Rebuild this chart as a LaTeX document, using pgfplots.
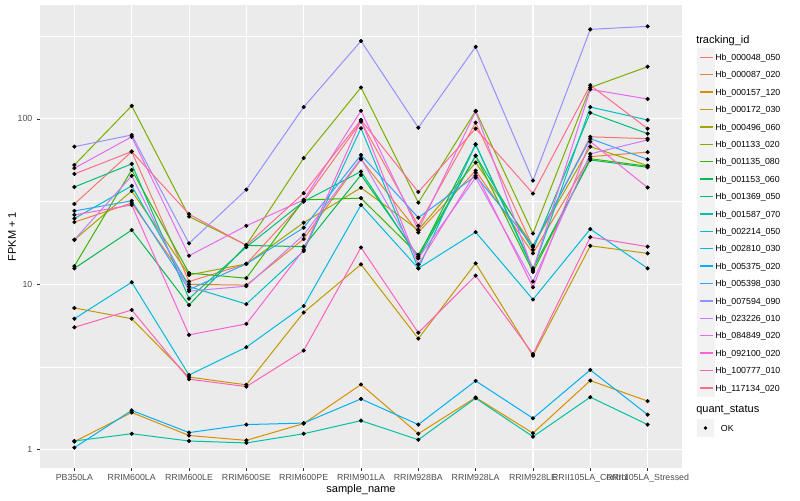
\documentclass[border=0pt]{standalone}
\usepackage{pgfplots}
\pgfplotsset{compat=1.18}
\usepackage{pgfplotstable}
\usepackage{fontspec}
\setmainfont{Liberation Sans}

% ggplot hue palette, 20 levels
\definecolor{c01}{HTML}{F8766D}
\definecolor{c02}{HTML}{EA8331}
\definecolor{c03}{HTML}{D89000}
\definecolor{c04}{HTML}{C09B00}
\definecolor{c05}{HTML}{A3A500}
\definecolor{c06}{HTML}{7CAE00}
\definecolor{c07}{HTML}{39B600}
\definecolor{c08}{HTML}{00BB4E}
\definecolor{c09}{HTML}{00BF7D}
\definecolor{c10}{HTML}{00C1A3}
\definecolor{c11}{HTML}{00BFC4}
\definecolor{c12}{HTML}{00BAE0}
\definecolor{c13}{HTML}{00B0F6}
\definecolor{c14}{HTML}{35A2FF}
\definecolor{c15}{HTML}{9590FF}
\definecolor{c16}{HTML}{C77CFF}
\definecolor{c17}{HTML}{E76BF3}
\definecolor{c18}{HTML}{FA62DB}
\definecolor{c19}{HTML}{FF62BC}
\definecolor{c20}{HTML}{FF6C90}
\definecolor{panelgrey}{HTML}{EBEBEB}
\definecolor{keygrey}{HTML}{F2F2F2}
\definecolor{ticktext}{HTML}{4D4D4D}
\definecolor{tickline}{HTML}{333333}

% FPKM + 1, one row per sample (x = 0..10), one column per tracking_id
\pgfplotstableread{
x  s01  s02  s03  s04  s05  s06  s07  s08  s09  s10  s11  s12  s13  s14  s15  s16  s17  s18  s19  s20
0  30.6 23.8 1.12 7.2  18.6 52.7 12.9 12.5 38.8 1.13 25   6.2  1.03 27.8 68   18.6 50.4 26.3 5.5  46.5
1  63.5 31   1.68 6.2  36.7 120  49.2 21.3 53.5 1.25 39.4 10.3 1.73 32   80   45.3 78   30.2 7.0  63.5
2  10.4 10.0 1.22 2.75 11.4 25.7 11.7 7.5  8.2  1.13 9.7  2.83 1.27 9.3  17.7 9.1  14.9 4.95 2.67 26.6
3  13.3 9.9  1.14 2.47 13.3 17.3 10.9 17.2 16.8 1.10 7.6  4.17 1.42 13.3 37.4 9.75 22.6 5.77 2.41 17.2
4  31.7 18.8 1.44 6.76 23.6 58   32.4 16.9 31.7 1.25 15.9 7.4  1.45 22.0 118  19.9 32.4 16.2 3.98 35.6
5  96.4 57   2.48 13.2 38.4 155  33.2 45.9 48.1 1.5  87.9 30.2 2.03 60.6 296  57.8 112  98.6 16.7 98.6
6  22.6 20.6 1.25 4.7  21.3 31.2 15.1 14.7 14.4 1.15 12.5 12.5 1.42 25.3 88.6 14.4 21.3 13.2 5.1  36.2
7  95   48.7 2.07 13.4 54.5 112  59.8 70.3 60   2.05 70   20.7 2.61 45.3 273  44.2 111  47.4 11.3 87.4
8  16.8 15.4 1.26 3.7  17.1 20.3 11.9 12.5 16.2 1.2  12.2 8.1  1.55 17.1 42.4 10.4 12.2 9.6  3.79 35.4
9  78   59.2 2.62 17.1 68   155  57.5 56.5 109  2.08 118  21.6 3.04 76   348  61.5 151  73   19.3 160
10 76   63   1.97 15.4 52.2 207  51.8 51   81.5 1.42 98.6 12.5 1.63 57   363  74.7 132  38.5 16.9 87.4
}\fpkm

\begin{document}
\begin{tikzpicture}
\begin{axis}[
    at={(0pt,0pt)}, anchor=south west,
    scale only axis,
    width=481.5pt, height=347.25pt,
    ymode=log,
    xmin=-0.6, xmax=10.6,
    ymin=0.776, ymax=488.7,
    xtick={0,...,10},
    xticklabels={PB350LA,RRIM600LA,RRIM600LE,RRIM600SE,RRIM600PE,RRIM901LA,RRIM928BA,RRIM928LA,RRIM928LE,RRII105LA\_Control,RRII105LA\_Stressed},
    ytick={1,10,100},
    yticklabels={1,10,100},
    minor ytick={3.1623,31.623,316.23},
    minor xtick={},
    grid=both,
    major grid style={white, line width=0.8pt},
    minor grid style={white, line width=0.4pt},
    axis background/.style={fill=panelgrey},
    axis line style={draw=none},
    tick align=outside,
    xtick pos=bottom, ytick pos=left,
    major tick length=2.2pt, minor tick length=0pt,
    tick style={tickline, line width=0.5pt},
    tick label style={font=\fontsize{6.6}{8}\selectfont, text=ticktext},
    xticklabel style={yshift=0.8pt},
    xlabel={sample\_name},
    ylabel={FPKM + 1},
    label style={font=\fontsize{8.25}{10}\selectfont},
    xlabel style={at={(axis description cs:0.5,-0.047)}, anchor=center},
    ylabel style={at={(axis description cs:-0.0436,0.5)}, anchor=center, rotate=0},
    legend cell align=left,
    legend style={
      at={(axis description cs:1.0234,0.9071)}, anchor=north west,
      draw=none, fill=none, inner sep=0pt, row sep=-0.45pt,
      font=\fontsize{6.6}{8}\selectfont,
      nodes={inner sep=0pt, text depth=0pt},
      /tikz/every even column/.append style={column sep=5.2pt}
    },
    legend image code/.code={
      \fill[keygrey] (0pt,-6.375pt) rectangle (12.75pt,6.375pt);
      \draw[#1, line width=1.1pt] (1.6pt,0pt) -- (11.15pt,0pt);
    },
  ]
  \addplot[c01, line width=0.75pt, mark=none] table[x=x, y=s01]{\fpkm};
  \addlegendentry{Hb\_000048\_050}
  \addplot[c02, line width=0.75pt, mark=none] table[x=x, y=s02]{\fpkm};
  \addlegendentry{Hb\_000087\_020}
  \addplot[c03, line width=0.75pt, mark=none] table[x=x, y=s03]{\fpkm};
  \addlegendentry{Hb\_000157\_120}
  \addplot[c04, line width=0.75pt, mark=none] table[x=x, y=s04]{\fpkm};
  \addlegendentry{Hb\_000172\_030}
  \addplot[c05, line width=0.75pt, mark=none] table[x=x, y=s05]{\fpkm};
  \addlegendentry{Hb\_000496\_060}
  \addplot[c06, line width=0.75pt, mark=none] table[x=x, y=s06]{\fpkm};
  \addlegendentry{Hb\_001133\_020}
  \addplot[c07, line width=0.75pt, mark=none] table[x=x, y=s07]{\fpkm};
  \addlegendentry{Hb\_001135\_080}
  \addplot[c08, line width=0.75pt, mark=none] table[x=x, y=s08]{\fpkm};
  \addlegendentry{Hb\_001153\_060}
  \addplot[c09, line width=0.75pt, mark=none] table[x=x, y=s09]{\fpkm};
  \addlegendentry{Hb\_001369\_050}
  \addplot[c10, line width=0.75pt, mark=none] table[x=x, y=s10]{\fpkm};
  \addlegendentry{Hb\_001587\_070}
  \addplot[c11, line width=0.75pt, mark=none] table[x=x, y=s11]{\fpkm};
  \addlegendentry{Hb\_002214\_050}
  \addplot[c12, line width=0.75pt, mark=none] table[x=x, y=s12]{\fpkm};
  \addlegendentry{Hb\_002810\_030}
  \addplot[c13, line width=0.75pt, mark=none] table[x=x, y=s13]{\fpkm};
  \addlegendentry{Hb\_005375\_020}
  \addplot[c14, line width=0.75pt, mark=none] table[x=x, y=s14]{\fpkm};
  \addlegendentry{Hb\_005398\_030}
  \addplot[c15, line width=0.75pt, mark=none] table[x=x, y=s15]{\fpkm};
  \addlegendentry{Hb\_007594\_090}
  \addplot[c16, line width=0.75pt, mark=none] table[x=x, y=s16]{\fpkm};
  \addlegendentry{Hb\_023226\_010}
  \addplot[c17, line width=0.75pt, mark=none] table[x=x, y=s17]{\fpkm};
  \addlegendentry{Hb\_084849\_020}
  \addplot[c18, line width=0.75pt, mark=none] table[x=x, y=s18]{\fpkm};
  \addlegendentry{Hb\_092100\_020}
  \addplot[c19, line width=0.75pt, mark=none] table[x=x, y=s19]{\fpkm};
  \addlegendentry{Hb\_100777\_010}
  \addplot[c20, line width=0.75pt, mark=none] table[x=x, y=s20]{\fpkm};
  \addlegendentry{Hb\_117134\_020}

  % points on top of all lines (quant_status = OK)
  \pgfplotsinvokeforeach{s01,s02,s03,s04,s05,s06,s07,s08,s09,s10,s11,s12,s13,s14,s15,s16,s17,s18,s19,s20}{
    \addplot[only marks, mark=*, mark size=1.35pt, black, forget plot] table[x=x, y=#1]{\fpkm};
  }
\end{axis}

% legend titles and the quant_status key
\node[anchor=west, font=\fontsize{8.25}{10}\selectfont, inner sep=0pt] at (492pt,320.5pt) {tracking\_id};
\node[anchor=west, font=\fontsize{8.25}{10}\selectfont, inner sep=0pt] at (492pt,43.5pt) {quant\_status};
\fill[keygrey] (492.75pt,23.6pt) rectangle (505.5pt,36.4pt);
\fill[black] (499.1pt,30pt) circle (1.35pt);
\node[anchor=west, font=\fontsize{6.6}{8}\selectfont, inner sep=0pt] at (510.5pt,30pt) {OK};

\pgfresetboundingbox
\useasboundingbox (-30pt,-24pt) rectangle (570pt,351pt);
\end{tikzpicture}
\end{document}
